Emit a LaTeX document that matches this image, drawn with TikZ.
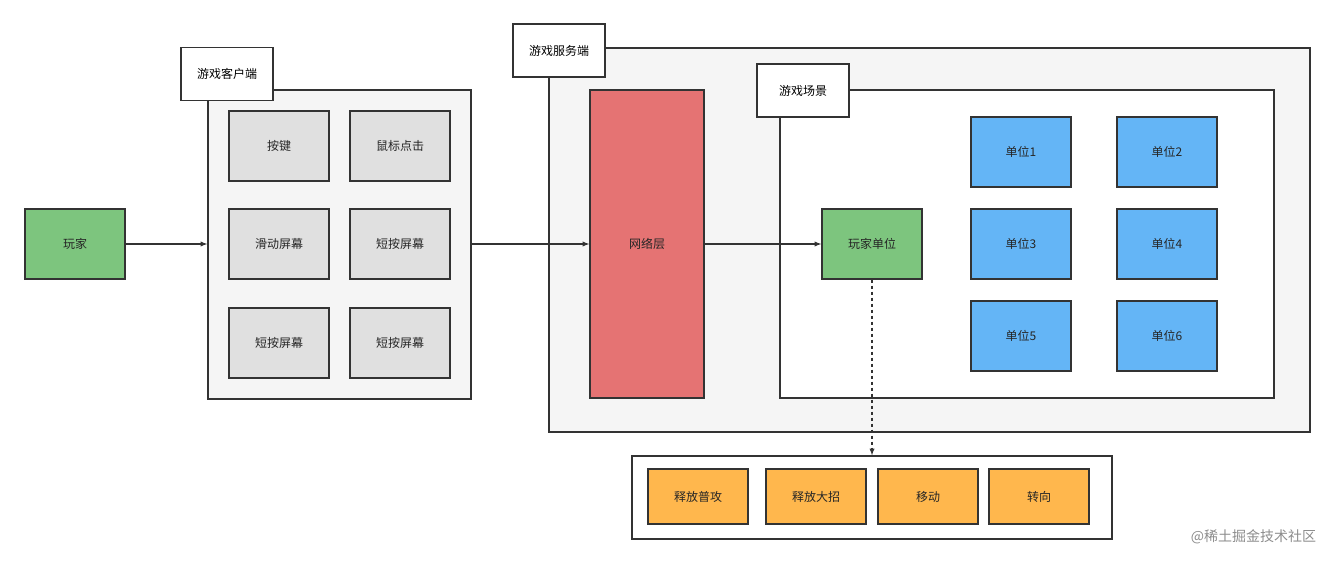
\documentclass[tikz,border=0pt]{standalone}
\usepackage{fontspec}
\setmainfont{Noto Sans CJK SC}
\begin{document}
\begin{tikzpicture}[x=1pt,y=-1pt,line width=1.3pt,
 box/.style={draw=black!80,minimum width=100pt,minimum height=70pt,inner sep=0pt,font=\fontsize{12}{14}\selectfont,text=black!85},
 lab/.style={draw=black!80,fill=white,minimum width=92pt,minimum height=53pt,inner sep=0pt,font=\fontsize{12}{14}\selectfont},
 arr/.style={draw=black!80,-latex}]
\useasboundingbox (0,0) rectangle (1335,564);
\definecolor{gr}{HTML}{7DC57E}\definecolor{cg}{HTML}{E0E0E0}
\definecolor{bl}{HTML}{64B5F6}\definecolor{rd}{HTML}{E57373}\definecolor{og}{HTML}{FFB74D}
\node[box,fill=gr] (p) at (75,244) {玩家};
\node[draw=black!80,fill=black!4,minimum width=263pt,minimum height=309pt,inner sep=0pt] (c) at (339.5,244.5) {};
\node[lab] at (227,74) {游戏客户端};
\node[box,fill=cg] (b1) at (279,146) {按键};
\node[box,fill=cg] (b2) at (400,146) {鼠标点击};
\node[box,fill=cg] (b3) at (279,244) {滑动屏幕};
\node[box,fill=cg] (b4) at (400,244) {短按屏幕};
\node[box,fill=cg] (b5) at (279,343) {短按屏幕};
\node[box,fill=cg] (b6) at (400,343) {短按屏幕};
\node[draw=black!80,fill=black!4,minimum width=761pt,minimum height=384pt,inner sep=0pt] (s) at (929.5,240) {};
\node[lab] at (559,50.5) {游戏服务端};
\node[box,fill=rd,minimum width=114pt,minimum height=308pt] (n) at (647,244) {网络层};
\node[draw=black!80,fill=white,minimum width=494pt,minimum height=308pt,inner sep=0pt] (sc) at (1027,244) {};
\node[lab] at (803,90.5) {游戏场景};
\node[box,fill=gr] (pu) at (872,244) {玩家单位};
\node[box,fill=bl] at (1021,152) {单位1};
\node[box,fill=bl] at (1167,152) {单位2};
\node[box,fill=bl] at (1021,244) {单位3};
\node[box,fill=bl] at (1167,244) {单位4};
\node[box,fill=bl] at (1021,336) {单位5};
\node[box,fill=bl] at (1167,336) {单位6};
\node[draw=black!80,fill=white,minimum width=480pt,minimum height=83pt,inner sep=0pt] (bt) at (872,497.5) {};
\node[box,fill=og,minimum height=55pt] at (698,496.5) {释放普攻};
\node[box,fill=og,minimum height=55pt] at (816,496.5) {释放大招};
\node[box,fill=og,minimum height=55pt] at (928,496.5) {移动};
\node[box,fill=og,minimum height=55pt] at (1039,496.5) {转向};
\draw[arr] (p.east) -- (c.west|-p.east);
\draw[arr] (c.east|-p.east) -- (n.west|-p.east);
\draw[arr] (n.east|-p.east) -- (pu.west);
\draw[arr,dashed] (pu.south) -- (pu.south|-bt.north);
\node[text=black!45,font=\fontsize{14}{16}\selectfont,anchor=east] at (1320,537) {@稀土掘金技术社区};
\end{tikzpicture}
\end{document}
